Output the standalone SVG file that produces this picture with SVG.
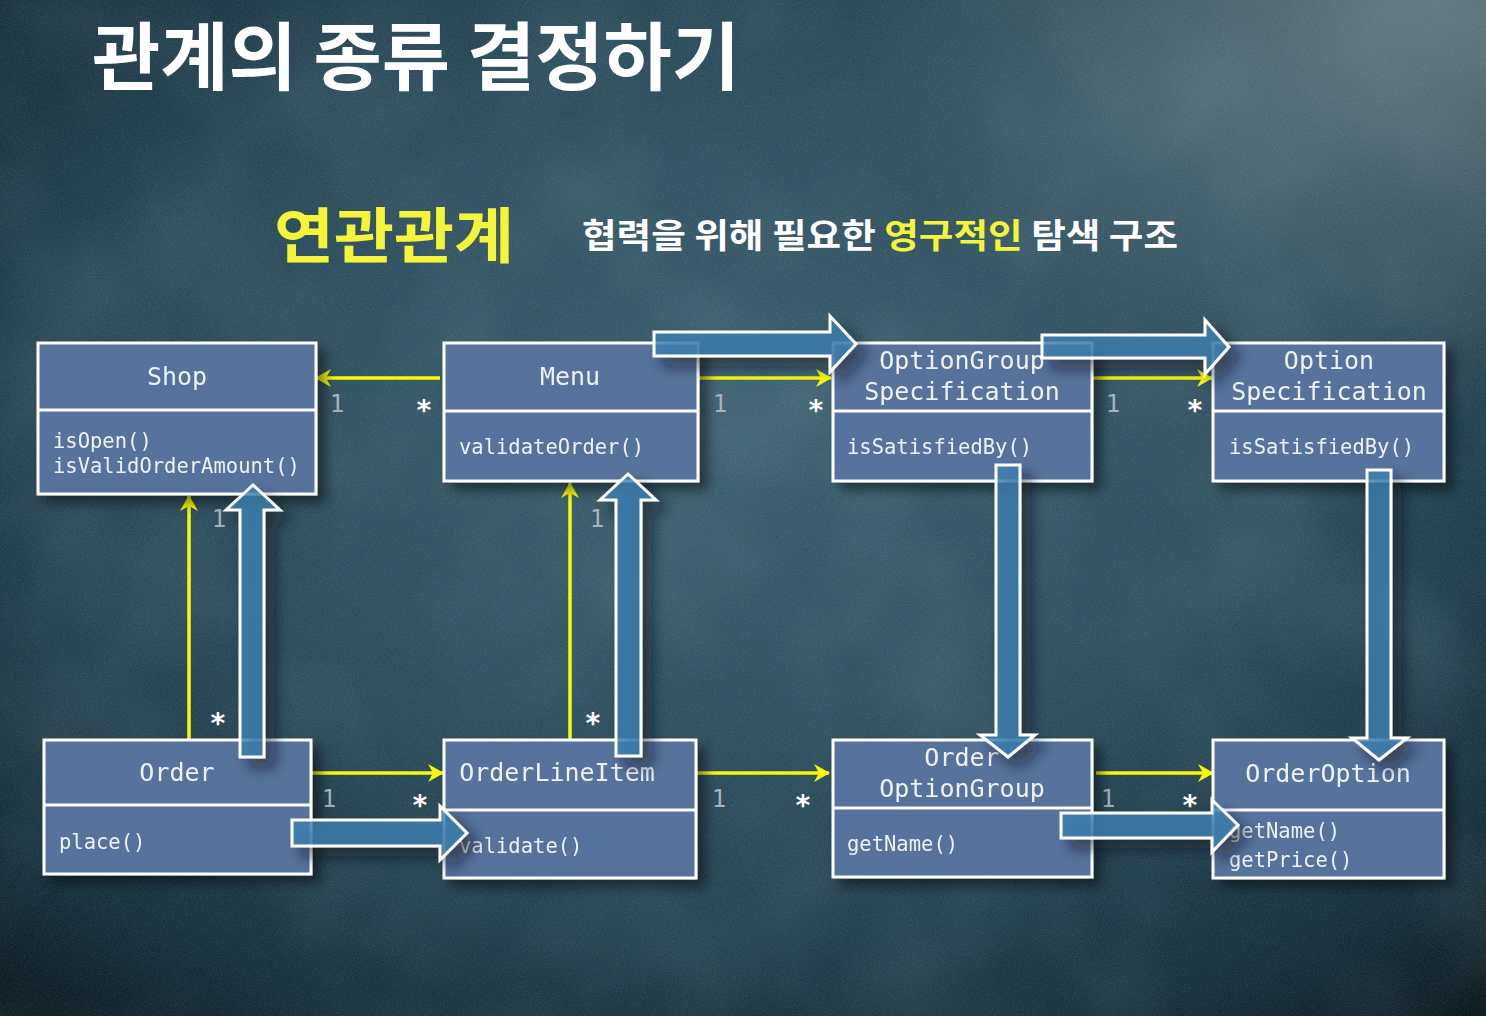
<svg xmlns="http://www.w3.org/2000/svg" width="1486" height="1016" viewBox="0 0 1486 1016">
<defs>
  <radialGradient id="bg" cx="0.5" cy="0.42" r="0.75">
    <stop offset="0" stop-color="#3a5f6e"/>
    <stop offset="0.5" stop-color="#2a4b5a"/>
    <stop offset="0.85" stop-color="#162f3b"/>
    <stop offset="1" stop-color="#0b1820"/>
  </radialGradient>
  <radialGradient id="tr" cx="0.97" cy="0.0" r="0.4">
    <stop offset="0" stop-color="#8a9ea4" stop-opacity="0.65"/>
    <stop offset="1" stop-color="#8a9ea4" stop-opacity="0"/>
  </radialGradient>
  <filter id="noise" x="0" y="0" width="100%" height="100%">
    <feTurbulence type="fractalNoise" baseFrequency="0.9" numOctaves="2" seed="3" result="n"/>
    <feColorMatrix type="matrix" values="0 0 0 0 1  0 0 0 0 1  0 0 0 0 1  0.35 0 0 0 -0.12"/>
  </filter>
  <filter id="clouds" x="0" y="0" width="100%" height="100%">
    <feTurbulence type="fractalNoise" baseFrequency="0.006" numOctaves="3" seed="7"/>
    <feColorMatrix type="matrix" values="0 0 0 0 0.45  0 0 0 0 0.62  0 0 0 0 0.7  0.6 0 0 0 -0.25"/>
  </filter>
  <filter id="shadow" x="-20%" y="-20%" width="140%" height="140%">
    <feDropShadow dx="8" dy="8" stdDeviation="6" flood-color="#000" flood-opacity="0.45"/>
  </filter>
  <filter id="glow" x="-30%" y="-30%" width="160%" height="160%">
    <feDropShadow dx="10" dy="10" stdDeviation="7" flood-color="#0a1620" flood-opacity="0.6"/>
  </filter>
  <marker id="ya" viewBox="0 0 16 18" refX="15" refY="9" markerWidth="16" markerHeight="18" orient="auto" markerUnits="userSpaceOnUse">
    <path d="M0,0 L16,9 L0,18 L5,9 z" fill="#f8f80c"/>
  </marker>
  <style>
    .box { fill: #56739d; stroke: #ffffff; stroke-width: 3; }
    .div { stroke: #ffffff; stroke-width: 3; }
    .ttl { font-family: "DejaVu Sans Mono", "Liberation Mono", monospace; font-size: 25px; fill: #eef2f6; text-anchor: middle; }
    .mth { font-family: "DejaVu Sans Mono", "Liberation Mono", monospace; font-size: 20.5px; fill: #eef2f6; }
    .conn { stroke: #f8f80c; stroke-width: 3.5; fill: none; marker-end: url(#ya); }
    .one { font-family: "DejaVu Sans Mono", "Liberation Mono", monospace; font-size: 24px; fill: #a9b4ba; text-anchor: middle; }
    .many { font-family: "DejaVu Sans Mono", "Liberation Mono", monospace; font-size: 28px; fill: #ffffff; text-anchor: middle; font-weight: bold; }
    .nav { fill: #3d80b2; fill-opacity: 0.8; stroke: #ffffff; stroke-width: 3; stroke-linejoin: miter; }
    .kr { font-family: "Noto Sans CJK KR", "Noto Sans", sans-serif; font-weight: bold; }
  </style>
</defs>

<!-- background -->
<rect width="1486" height="1016" fill="url(#bg)"/>
<rect width="1486" height="1016" filter="url(#clouds)" opacity="0.4"/>
<rect width="1486" height="1016" fill="url(#tr)"/>
<rect width="1486" height="1016" filter="url(#noise)" opacity="0.5"/>

<!-- headings -->
<text class="kr" x="92" y="84" font-size="74" fill="#ffffff" textLength="648" lengthAdjust="spacingAndGlyphs">관계의 종류 결정하기</text>
<text class="kr" x="274" y="258" font-size="60" fill="#f4f43a" textLength="240" lengthAdjust="spacingAndGlyphs">연관관계</text>
<text class="kr" x="582" y="248" font-size="34" fill="#ffffff" textLength="596" lengthAdjust="spacingAndGlyphs">협력을 위해 필요한 <tspan fill="#f4f43a">영구적인</tspan> 탐색 구조</text>

<!-- connectors -->
<g id="connectors">
  <line class="conn" x1="440" y1="378" x2="316" y2="378"/>
  <line class="conn" x1="698" y1="378" x2="831" y2="378"/>
  <line class="conn" x1="1092" y1="378" x2="1212" y2="378"/>
  <line class="conn" x1="189" y1="740" x2="189" y2="496"/>
  <line class="conn" x1="570" y1="740" x2="570" y2="483"/>
  <line class="conn" x1="311" y1="773" x2="443" y2="773"/>
  <line class="conn" x1="696" y1="773" x2="829" y2="773"/>
  <line class="conn" x1="1096" y1="773" x2="1213" y2="773"/>
  <text class="one" x="337" y="412">1</text>
  <text class="many" x="424" y="420">*</text>
  <text class="one" x="720" y="412">1</text>
  <text class="many" x="816" y="420">*</text>
  <text class="one" x="1113" y="412">1</text>
  <text class="many" x="1195" y="420">*</text>
  <text class="one" x="219" y="527">1</text>
  <text class="many" x="218" y="733">*</text>
  <text class="one" x="597" y="527">1</text>
  <text class="many" x="593" y="733">*</text>
  <text class="one" x="329" y="807">1</text>
  <text class="many" x="420" y="815">*</text>
  <text class="one" x="719" y="807">1</text>
  <text class="many" x="803" y="815">*</text>
  <text class="one" x="1108" y="807">1</text>
  <text class="many" x="1190" y="815">*</text>
</g>

<!-- nodes -->
<g id="shop" filter="url(#shadow)">
  <rect class="box" x="38" y="343" width="278" height="151"/>
  <line class="div" x1="38" y1="410" x2="316" y2="410"/>
  <text class="ttl" x="177" y="385">Shop</text>
  <text class="mth" x="53" y="448">isOpen()</text>
  <text class="mth" x="53" y="473">isValidOrderAmount()</text>
</g>
<g id="menu" filter="url(#shadow)">
  <rect class="box" x="444" y="343" width="254" height="138"/>
  <line class="div" x1="444" y1="411" x2="698" y2="411"/>
  <text class="ttl" x="570" y="385">Menu</text>
  <text class="mth" x="459" y="454">validateOrder()</text>
</g>
<g id="optionGroupSpecification" filter="url(#shadow)">
  <rect class="box" x="833" y="343" width="259" height="138"/>
  <line class="div" x1="833" y1="411" x2="1092" y2="411"/>
  <text class="ttl" x="962" y="369">OptionGroup</text>
  <text class="ttl" x="962" y="400">Specification</text>
  <text class="mth" x="847" y="454">isSatisfiedBy()</text>
</g>
<g id="optionSpecification" filter="url(#shadow)">
  <rect class="box" x="1213" y="343" width="231" height="138"/>
  <line class="div" x1="1213" y1="411" x2="1444" y2="411"/>
  <text class="ttl" x="1329" y="369">Option</text>
  <text class="ttl" x="1329" y="400">Specification</text>
  <text class="mth" x="1229" y="454">isSatisfiedBy()</text>
</g>
<g id="order" filter="url(#shadow)">
  <rect class="box" x="44" y="740" width="267" height="134"/>
  <line class="div" x1="44" y1="805" x2="311" y2="805"/>
  <text class="ttl" x="177" y="781">Order</text>
  <text class="mth" x="59" y="849">place()</text>
</g>
<g id="orderLineItem" filter="url(#shadow)">
  <rect class="box" x="444" y="740" width="252" height="138"/>
  <line class="div" x1="444" y1="810" x2="696" y2="810"/>
  <text class="ttl" x="557" y="781">OrderLineItem</text>
  <text class="mth" x="459" y="853">validate()</text>
</g>
<g id="orderOptionGroup" filter="url(#shadow)">
  <rect class="box" x="833" y="740" width="259" height="137"/>
  <line class="div" x1="833" y1="808" x2="1092" y2="808"/>
  <text class="ttl" x="962" y="766">Order</text>
  <text class="ttl" x="962" y="797">OptionGroup</text>
  <text class="mth" x="847" y="851">getName()</text>
</g>
<g id="orderOption" filter="url(#shadow)">
  <rect class="box" x="1213" y="740" width="231" height="138"/>
  <line class="div" x1="1213" y1="810" x2="1444" y2="810"/>
  <text class="ttl" x="1328" y="782">OrderOption</text>
  <text class="mth" x="1229" y="838">getName()</text>
  <text class="mth" x="1229" y="867">getPrice()</text>
</g>

<!-- navigation block arrows -->
<g id="navigation" filter="url(#glow)">
  <path class="nav" d="M654,332 H830 V316 L856,344 L830,372 V356 H654 Z"/>
  <path class="nav" d="M1042,335 H1205 V320 L1229,347 L1205,374 V358 H1042 Z"/>
  <path class="nav" d="M240,757 V510 H226 L253,485 L280,510 H264 V757 Z"/>
  <path class="nav" d="M616,756 V500 H600 L628,474 L656,500 H641 V756 Z"/>
  <path class="nav" d="M996,465 V735 H980 L1008,757 L1035,735 H1020 V465 Z"/>
  <path class="nav" d="M1367,470 V738 H1352 L1379,760 L1407,738 H1391 V470 Z"/>
  <path class="nav" d="M292,820 H440 V806 L467,833 L440,860 V846 H292 Z"/>
  <path class="nav" d="M1061,813 H1212 V800 L1238,825 L1212,852 V838 H1061 Z"/>
</g>
</svg>
